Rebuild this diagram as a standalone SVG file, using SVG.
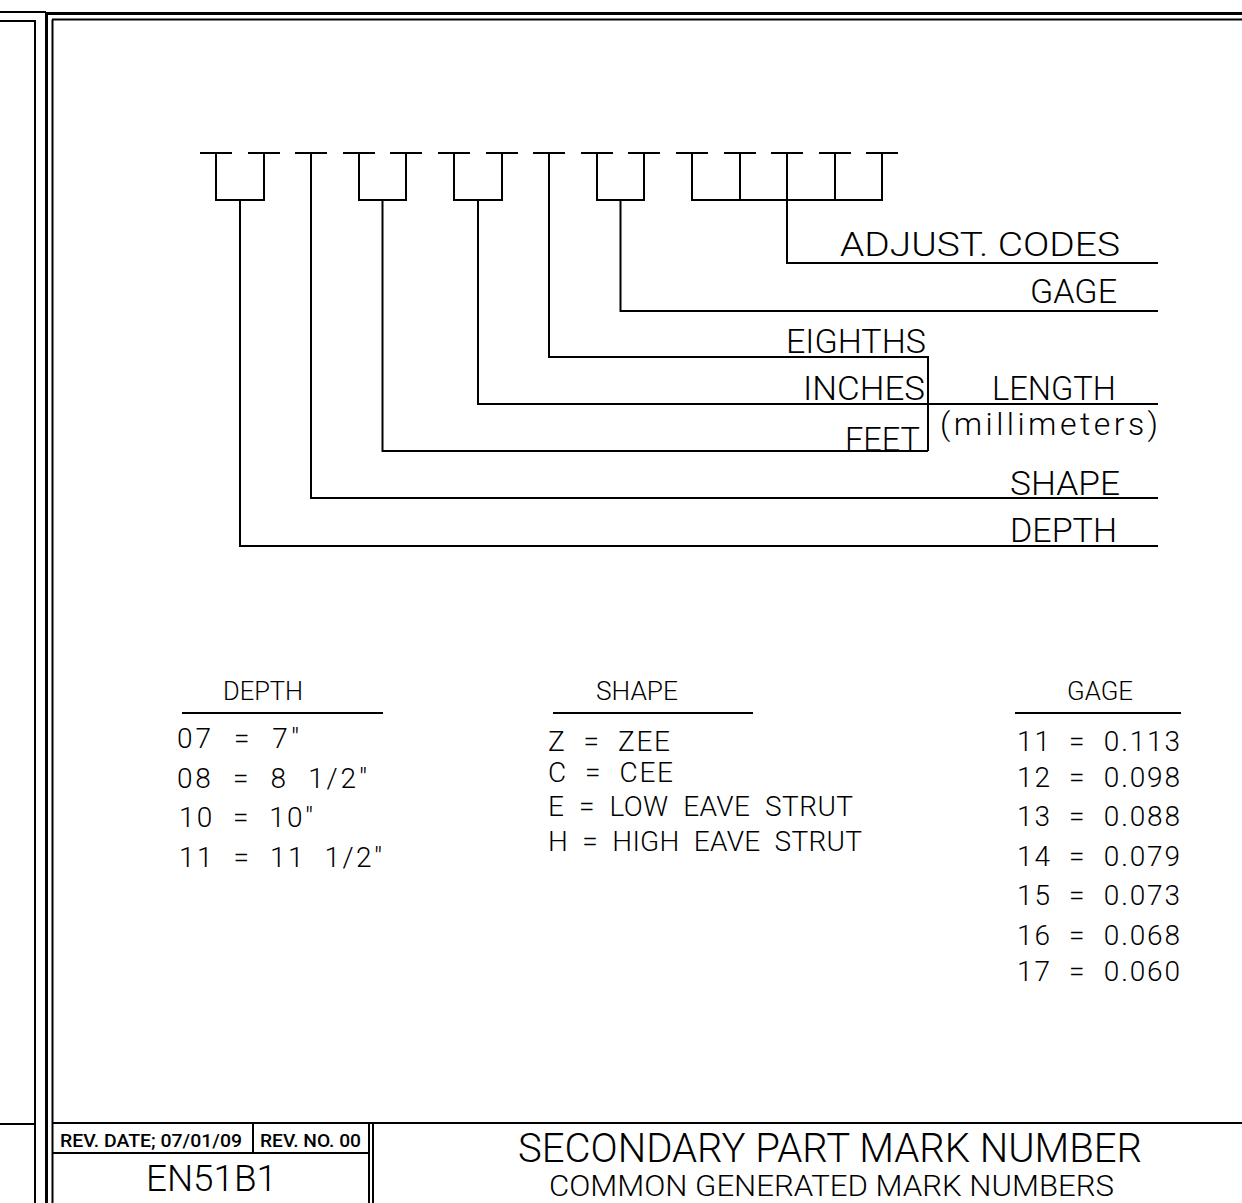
<svg xmlns="http://www.w3.org/2000/svg" width="1242" height="1203" viewBox="0 0 1242 1203">
<style>
.ln{stroke:#000;stroke-width:2;fill:none}
.tk{stroke:#000;stroke-width:3;fill:none}
text{font-family:Roboto,"Liberation Sans",Arial,sans-serif;font-weight:300;fill:#000}
.lbl{font-size:34px}
.hdr{font-size:25px}
.row{font-size:28px}
.rev{font-size:19px;font-weight:500}
</style>
<rect width="1242" height="1203" fill="#fff"/>
<g id="frame">
<path class="ln" d="M0 12H46M0 21H35V1203M0 1124H35"/>
<path class="tk" d="M46.5 12V1203M45 13.5H1242"/>
<path class="ln" d="M52.5 19.5V1203M52 19.5H1242"/>
</g>
<g id="connectors">
<path class="ln" d="M200 153H232M248 153H280M295 153H327M343 153H375M390 153H422M438 153H470M486 153H518M533 153H565M581 153H613M628 153H660M676 153H708M724 153H756M771 153H803M819 153H851M866 153H898"/>
<path class="ln" d="M216 153V200H264V153M240 200V546H1158"/>
<path class="ln" d="M311 153V498H1158"/>
<path class="ln" d="M359 153V200H406V153M382.5 200V451H928"/>
<path class="ln" d="M454 153V200H502V153M478 200V404H1158"/>
<path class="ln" d="M549 153V357H928V451"/>
<path class="ln" d="M597 153V200H644V153M620.5 200V311H1158"/>
<path class="ln" d="M692 153V200H882V153M740 153V200M787 153V263H1158M835 153V200"/>
</g>
<g id="label-adjust"><text class="lbl" x="840" y="256" textLength="280" lengthAdjust="spacingAndGlyphs">ADJUST. CODES</text></g>
<g id="label-gage"><text class="lbl" x="1030" y="303" textLength="87" lengthAdjust="spacingAndGlyphs">GAGE</text></g>
<g id="label-eighths"><text class="lbl" x="786" y="353" textLength="140" lengthAdjust="spacingAndGlyphs">EIGHTHS</text></g>
<g id="label-inches"><text class="lbl" x="803" y="400" textLength="122" lengthAdjust="spacingAndGlyphs">INCHES</text></g>
<g id="label-length">
<text class="lbl" x="992" y="400" textLength="124" lengthAdjust="spacingAndGlyphs">LENGTH</text>
<text x="940" y="435" font-size="32" textLength="218" lengthAdjust="spacing">(millimeters)</text>
</g>
<g id="label-feet"><text class="lbl" x="845" y="451" textLength="75" lengthAdjust="spacingAndGlyphs">FEET</text></g>
<g id="label-shape"><text class="lbl" x="1010" y="495" textLength="110" lengthAdjust="spacingAndGlyphs">SHAPE</text></g>
<g id="label-depth"><text class="lbl" x="1010" y="542" textLength="107" lengthAdjust="spacingAndGlyphs">DEPTH</text></g>
<g id="table-depth">
<text class="hdr" x="223" y="700" textLength="80" lengthAdjust="spacingAndGlyphs">DEPTH</text>
<path class="ln" d="M182 713H383"/>
<text class="row" x="177" y="748" textLength="122" lengthAdjust="spacing" xml:space="preserve">07  =  7"</text>
<text class="row" x="177" y="788" textLength="190" lengthAdjust="spacing" xml:space="preserve">08  =  8  1/2"</text>
<text class="row" x="179" y="827" textLength="134" lengthAdjust="spacing" xml:space="preserve">10  =  10"</text>
<text class="row" x="179" y="867" textLength="203" lengthAdjust="spacing" xml:space="preserve">11  =  11  1/2"</text>
</g>
<g id="table-shape">
<text class="hdr" x="596" y="700" textLength="82" lengthAdjust="spacingAndGlyphs">SHAPE</text>
<path class="ln" d="M553 713H753"/>
<text class="row" x="548" y="751" textLength="122" lengthAdjust="spacing" xml:space="preserve">Z  =  ZEE</text>
<text class="row" x="548" y="782" textLength="125" lengthAdjust="spacing" xml:space="preserve">C  =  CEE</text>
<text class="row" x="548" y="816" textLength="305" lengthAdjust="spacing" xml:space="preserve">E  =  LOW  EAVE  STRUT</text>
<text class="row" x="548" y="851" textLength="314" lengthAdjust="spacing" xml:space="preserve">H  =  HIGH  EAVE  STRUT</text>
</g>
<g id="table-gage">
<text class="hdr" x="1067" y="700" textLength="66" lengthAdjust="spacingAndGlyphs">GAGE</text>
<path class="ln" d="M1015 713H1181"/>
<text class="row" x="1017" y="751" textLength="163" lengthAdjust="spacing" xml:space="preserve">11  =  0.113</text>
<text class="row" x="1017" y="787" textLength="163" lengthAdjust="spacing" xml:space="preserve">12  =  0.098</text>
<text class="row" x="1017" y="826" textLength="163" lengthAdjust="spacing" xml:space="preserve">13  =  0.088</text>
<text class="row" x="1017" y="866" textLength="163" lengthAdjust="spacing" xml:space="preserve">14  =  0.079</text>
<text class="row" x="1017" y="905" textLength="163" lengthAdjust="spacing" xml:space="preserve">15  =  0.073</text>
<text class="row" x="1017" y="945" textLength="163" lengthAdjust="spacing" xml:space="preserve">16  =  0.068</text>
<text class="row" x="1017" y="981" textLength="163" lengthAdjust="spacing" xml:space="preserve">17  =  0.060</text>
</g>
<g id="title-block">
<path class="ln" d="M52 1123H1242M52 1153H369M253 1123V1153M369 1123V1203M373 1123V1203"/>
<text class="rev" x="60" y="1147" textLength="182" lengthAdjust="spacingAndGlyphs">REV. DATE; 07/01/09</text>
<text class="rev" x="260" y="1147" textLength="101" lengthAdjust="spacingAndGlyphs">REV. NO. 00</text>
<text x="146" y="1191" font-size="36" textLength="131" lengthAdjust="spacingAndGlyphs">EN51B1</text>
<text x="518" y="1162" font-size="40" textLength="624" lengthAdjust="spacingAndGlyphs">SECONDARY PART MARK NUMBER</text>
<text x="549" y="1196" font-size="29" textLength="565" lengthAdjust="spacingAndGlyphs">COMMON GENERATED MARK NUMBERS</text>
</g>
</svg>
